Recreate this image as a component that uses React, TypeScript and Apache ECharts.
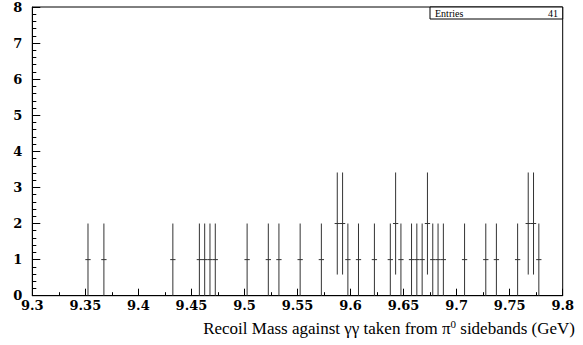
import React, { useEffect, useRef } from "react";
import * as echarts from "echarts";

// Histogram of recoil mass (GeV), bins of 0.005 GeV: bin centres and contents
const binCenters = [
  9.3525, 9.3675, 9.4325, 9.4575, 9.4625, 9.4675, 9.4725, 9.5025, 9.5225, 9.5325,
  9.5525, 9.5725, 9.5875, 9.5925, 9.5975, 9.6075, 9.6225, 9.6375, 9.6425, 9.6475,
  9.6575, 9.6625, 9.6675, 9.6725, 9.6775, 9.6825, 9.6875, 9.7075, 9.7275, 9.7375,
  9.7575, 9.7675, 9.7725, 9.7775,
];
const binCounts = [
  1, 1, 1, 1, 1, 1, 1, 1, 1, 1,
  1, 1, 2, 2, 1, 1, 1, 1, 2, 1,
  1, 1, 1, 2, 1, 1, 1, 1, 1, 1,
  1, 2, 2, 1,
];
const binWidth = 0.005;
const entries = 41;

const xTitle = "Recoil Mass against γγ taken from π";
const xTitleSup = "0";
const xTitleEnd = " sidebands (GeV)";

const SERIF = "Liberation Serif";
const SERIF_BOLD = "DejaVu Serif";

export default function App() {
  const ref = useRef<HTMLDivElement>(null);

  useEffect(() => {
    if (!ref.current) return;
    const chart = echarts.init(ref.current, null, { renderer: "svg" });

    const data = binCenters.map((x, i) => [x, binCounts[i]]);

    chart.setOption({
      animation: false,
      backgroundColor: "#fff",
      textStyle: { fontFamily: SERIF },
      grid: {
        left: 32.3,
        right: 20.3,
        top: 7,
        bottom: 49.3,
        show: true,
        borderColor: "#000",
        borderWidth: 1,
        backgroundColor: "transparent",
      },
      xAxis: {
        type: "value",
        min: 9.3,
        max: 9.8,
        interval: 0.05,
        axisLine: { show: true, onZero: false, lineStyle: { color: "#000", width: 1 } },
        axisTick: { show: true, inside: true, length: 7, lineStyle: { color: "#000" } },
        minorTick: { show: true, splitNumber: 2, length: 3.5, lineStyle: { color: "#000" } },
        splitLine: { show: false },
        axisLabel: {
          color: "#000",
          fontFamily: SERIF_BOLD,
          fontWeight: "bold",
          fontSize: 13,
          margin: 3,
          formatter: (v: number) => String(parseFloat(v.toFixed(3))),
        },
      },
      yAxis: {
        type: "value",
        min: 0,
        max: 8,
        interval: 1,
        axisLine: { show: true, lineStyle: { color: "#000", width: 1 } },
        axisTick: { show: true, inside: true, length: 8, lineStyle: { color: "#000" } },
        minorTick: { show: true, splitNumber: 5, length: 4, lineStyle: { color: "#000" } },
        splitLine: { show: false },
        axisLabel: {
          color: "#000",
          fontFamily: SERIF_BOLD,
          fontWeight: "bold",
          fontSize: 13,
          margin: 10,
        },
      },
      series: [
        {
          type: "custom",
          data,
          renderItem: (params: any, api: any) => {
            const x = api.value(0);
            const n = api.value(1);
            const err = Math.sqrt(n);
            const c = api.coord([x, n]);
            const lo = api.coord([x, n - err]);
            const hi = api.coord([x, n + err]);
            const l = api.coord([x - binWidth / 2, n]);
            const r = api.coord([x + binWidth / 2, n]);
            const style = { stroke: "#333", lineWidth: 1 };
            return {
              type: "group",
              children: [
                { type: "line", shape: { x1: c[0], y1: lo[1], x2: c[0], y2: hi[1] }, style },
                { type: "line", shape: { x1: l[0], y1: c[1], x2: r[0], y2: c[1] }, style },
              ],
            };
          },
        },
      ],
      graphic: [
        {
          type: "rect",
          shape: { x: 430, y: 7, width: 132.7, height: 12 },
          style: { fill: "#fff", stroke: "#000", lineWidth: 1 },
          z: 10,
        },
        {
          type: "text",
          x: 435,
          y: 13.5,
          style: {
            text: "Entries",
            fontFamily: SERIF,
            fontSize: 10,
            fill: "#000",
            verticalAlign: "middle",
          },
          z: 11,
        },
        {
          type: "text",
          x: 558,
          y: 13.5,
          style: {
            text: String(entries),
            fontFamily: SERIF,
            fontSize: 10,
            fill: "#000",
            align: "right",
            verticalAlign: "middle",
          },
          z: 11,
        },
        {
          type: "text",
          x: 575,
          y: 328,
          style: {
            text: `{a|${xTitle}}{s|${xTitleSup}}{a|${xTitleEnd}}`,
            align: "right",
            verticalAlign: "middle",
            rich: {
              a: { fontFamily: SERIF, fontSize: 17, fill: "#000", color: "#000" },
              s: {
                fontFamily: SERIF,
                fontSize: 11,
                color: "#000",
                fill: "#000",
                padding: [0, 0, 8, 0],
              },
            },
          },
        },
      ],
    });

    return () => chart.dispose();
  }, []);

  return (
    <div
      ref={ref}
      style={{ position: "fixed", left: 0, top: 0, width: 583, height: 345 }}
    />
  );
}
